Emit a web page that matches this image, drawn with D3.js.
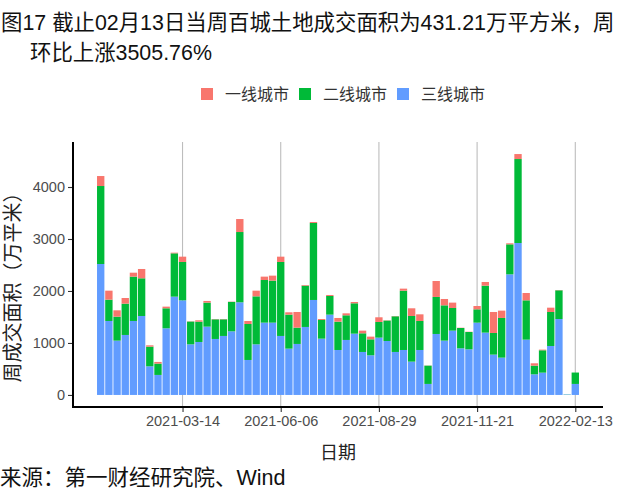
<!DOCTYPE html>
<html><head><meta charset="utf-8">
<script src="https://cdn.jsdelivr.net/npm/d3@7"></script>
<style>
html,body{margin:0;padding:0;background:#fff;}
svg text{font-family:"Liberation Sans","Noto Sans CJK SC",sans-serif;}
</style></head>
<body>
<svg id="chart" width="640" height="498"></svg>
<script>
const dates = ["2021-01-03","2021-01-10","2021-01-17","2021-01-24","2021-01-31","2021-02-07","2021-02-14","2021-02-21","2021-02-28","2021-03-07",
"2021-03-14","2021-03-21","2021-03-28","2021-04-04","2021-04-11","2021-04-18","2021-04-25","2021-05-02","2021-05-09","2021-05-16",
"2021-05-23","2021-05-30","2021-06-06","2021-06-13","2021-06-20","2021-06-27","2021-07-04","2021-07-11","2021-07-18","2021-07-25",
"2021-08-01","2021-08-08","2021-08-15","2021-08-22","2021-08-29","2021-09-05","2021-09-12","2021-09-19","2021-09-26","2021-10-03",
"2021-10-10","2021-10-17","2021-10-24","2021-10-31","2021-11-07","2021-11-14","2021-11-21","2021-11-28","2021-12-05","2021-12-12",
"2021-12-19","2021-12-26","2022-01-02","2022-01-09","2022-01-16","2022-01-23","2022-01-30","2022-02-06","2022-02-13"];
const tier1 = [192,173,122,109,76,179,26,32,32,13, 102,5,26,32,5,5,5,250,58,109, 65,96,102,45,301,13,19,19,19,71, 38,25,51,52,90,5,5,39,148,128, 3,307,122,103,5,5,64,71,404,141, 20,96,141,45,13,83,5,0,0];
const tier2 = [1500,410,461,602,853,725,378,218,385,833, 738,438,391,462,378,320,566,1352,692,923, 820,808,1423,654,314,794,1481,359,359,545, 474,584,359,307,301,393,686,1141,878,558, 352,712,679,436,391,333,256,903,416,763, 577,1615,756,167,430,654,552,3,219.21];
const tier3 = [2519,1423,1045,1154,1423,1519,551,385,1282,1891, 1820,974,1019,1314,1077,1135,1224,1782,673,974, 1391,1391,1135,891,981,1308,1827,1083,1545,865, 1058,1179,827,763,1103,1038,827,865,641,865, 212,1173,1045,1237,897,878,1391,1199,776,718, 2320,2923,1064,397,429,942,1461,8.96,212];
const seriesNames = ["一线城市","二线城市","三线城市"];
const seriesColors = ["#F8766D","#00BA38","#619CFF"];
const xTickLabels = ["2021-03-14","2021-06-06","2021-08-29","2021-11-21","2022-02-13"];
const yTicks = [0,1000,2000,3000,4000];

(function(){
const svg = d3.select("#chart");
const parse = d3.utcParse("%Y-%m-%d");
const DAY = 864e5;
const rows = dates.map((d,i)=>({date:parse(d), t1:tier1[i], t2:tier2[i], t3:tier3[i]}));
const pL=73, pR=603, pT=142, pB=407;
const first = rows[0].date, last = rows[rows.length-1].date;
const pad = 23.7*DAY;
const x = d3.scaleUtc().domain([new Date(+first-pad), new Date(+last+pad)]).range([pL,pR]);
const maxTot = d3.max(rows, r=>r.t1+r.t2+r.t3);
const y = d3.scaleLinear().domain([-0.05*maxTot, maxTot*1.05]).range([pB, pT]);

// grid lines
svg.append("g").selectAll("line").data(xTickLabels).join("line")
  .attr("x1",d=>x(parse(d))).attr("x2",d=>x(parse(d)))
  .attr("y1",pT).attr("y2",pB)
  .attr("stroke","#bdbdbd").attr("stroke-width",1.1);

// stacked bars (three-tier at bottom)
const stack = d3.stack().keys(["t3","t2","t1"]);
const layers = stack(rows);
const colorOf = {t1:seriesColors[0], t2:seriesColors[1], t3:seriesColors[2]};
const bw = x(new Date(+first + 0.9*7*DAY)) - x(first);
svg.append("g").selectAll("g").data(layers).join("g")
  .attr("fill", d=>colorOf[d.key])
  .selectAll("rect").data(d=>d).join("rect")
  .attr("x", d=>x(d.data.date)-bw/2)
  .attr("width", bw)
  .attr("y", d=>y(d[1]))
  .attr("height", d=>Math.max(0, y(d[0])-y(d[1])));

// axes
const yAxis = d3.axisLeft(y).tickValues(yTicks).tickSize(5).tickPadding(3).tickFormat(d3.format("d"));
const gy = svg.append("g").attr("transform",`translate(${pL},0)`).call(yAxis);
gy.select(".domain").remove();
gy.selectAll(".tick line").attr("stroke","#333").attr("stroke-width",1.1);
gy.selectAll(".tick text").attr("font-size",14.5).attr("fill","#4d4d4d").attr("font-family","Liberation Sans");
svg.append("line").attr("x1",pL).attr("x2",pL).attr("y1",pT).attr("y2",pB+1)
  .attr("stroke","#000").attr("stroke-width",2);

const xAxis = d3.axisBottom(x).tickValues(xTickLabels.map(parse)).tickSize(5).tickPadding(4)
  .tickFormat(d3.utcFormat("%Y-%m-%d"));
const gx = svg.append("g").attr("transform",`translate(0,${pB})`).call(xAxis);
gx.select(".domain").remove();
gx.selectAll(".tick line").attr("stroke","#333").attr("stroke-width",1.1);
gx.selectAll(".tick text").attr("font-size",14.5).attr("fill","#4d4d4d").attr("font-family","Liberation Sans");
svg.append("line").attr("x1",pL-1).attr("x2",pR).attr("y1",pB).attr("y2",pB)
  .attr("stroke","#000").attr("stroke-width",2);

// axis titles
svg.append("text").attr("x",(pL+pR)/2).attr("y",459).attr("text-anchor","middle")
  .attr("font-size",18).attr("fill","#222").text("日期");
svg.append("text").attr("transform",`translate(19.5,${(pT+pB)/2 + 8}) rotate(-90)`)
  .attr("text-anchor","middle").attr("font-size",20).attr("fill","#222").text("周成交面积（万平米）");

// legend
const legX = [201,299,397];
const lg = svg.append("g");
seriesNames.forEach((n,i)=>{
  lg.append("rect").attr("x",legX[i]).attr("y",88).attr("width",12).attr("height",12).attr("fill",seriesColors[i]);
  lg.append("text").attr("x",legX[i]+24).attr("y",100).attr("font-size",16).attr("fill","#333").text(n);
});

// title and source
svg.append("text").attr("x",1).attr("y",30).attr("font-size",21.4).attr("fill","#111")
  .text("图17 截止02月13日当周百城土地成交面积为431.21万平方米，周");
svg.append("text").attr("x",30).attr("y",60).attr("font-size",21.4).attr("fill","#111")
  .text("环比上涨3505.76%");
svg.append("text").attr("x",0).attr("y",485).attr("font-size",21.5).attr("fill","#111")
  .text("来源：第一财经研究院、Wind");
})();
</script>
</body></html>
